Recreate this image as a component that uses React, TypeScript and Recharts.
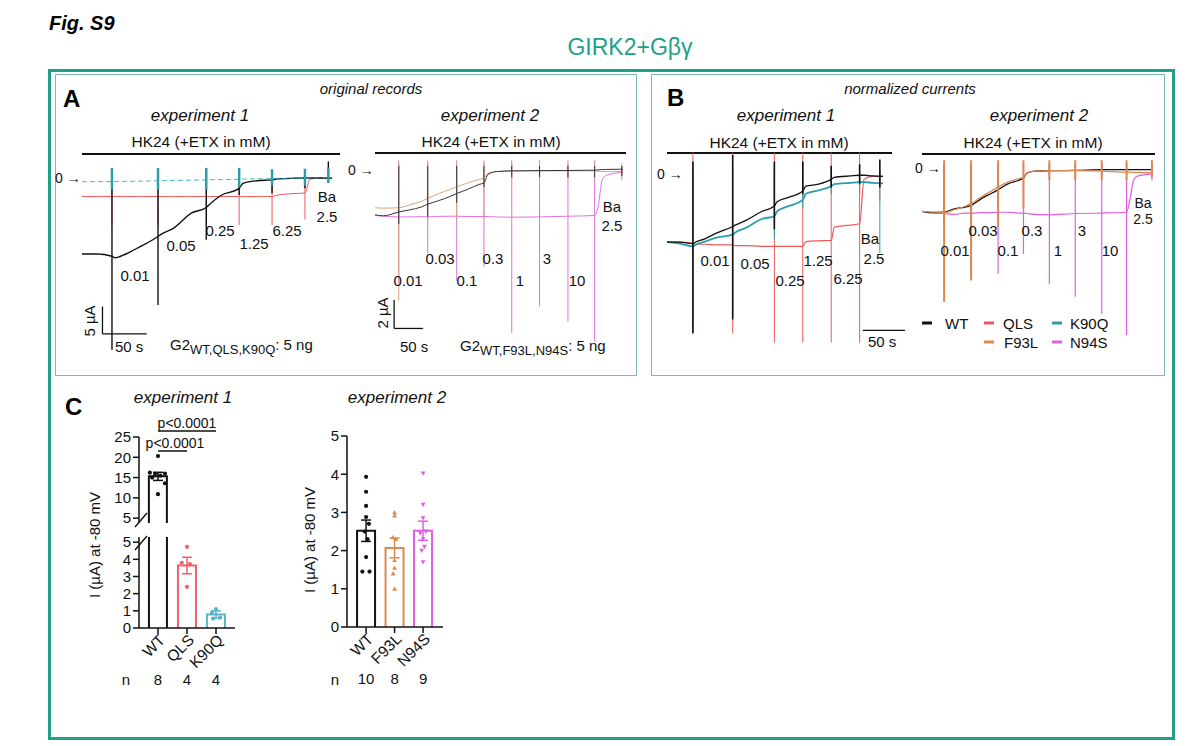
import React from "react";
import {
  LineChart,
  Line,
  XAxis,
  YAxis,
  ReferenceLine,
  ComposedChart,
  Bar,
  Scatter,
  ErrorBar,
} from "recharts";

const FONT = '"Liberation Sans", Arial, Helvetica, sans-serif';
const TEAL = "#21a088";
const BOX = "#7ab8bd";

const C_WT = "#111111";
const C_QLS = "#f0575c";
const C_K90Q = "#2a9eac";
const C_F93L = "#dc8a50";
const C_N94S = "#e25ee4";

// ---- experiment 1 (WT, QLS, K90Q) ----
// solution switches (s) and knot times for the holding current
const sw1 = [41, 104, 170, 215, 260, 305, 337];
const kn1 = [0, 20, 41, 45, 60, 80, 104, 108, 125, 150, 170, 174, 190, 215, 220, 240, 260, 265, 290, 305, 312, 325, 342];

// original records, µA
const a1WT = [-14.0, -14.0, -14.4, -14.7, -14.0, -12.6, -10.8, -10.4, -9.3, -6.5, -5.5, -5.0, -3.3, -2.0, -1.1, -0.6, -0.45, -0.3, -0.15, -0.1, -0.1, -0.1, -0.15];
const a1QLS = [-3.5, -3.5, -3.5, -3.5, -3.5, -3.5, -3.5, -3.5, -3.5, -3.5, -3.5, -3.5, -3.5, -3.5, -3.5, -3.5, -3.5, -3.3, -2.95, -2.85, -0.3, -0.12, -0.1];
const a1K90Q = [-0.8, -0.78, -0.75, -0.74, -0.72, -0.68, -0.62, -0.6, -0.55, -0.5, -0.45, -0.42, -0.4, -0.35, -0.3, -0.27, -0.22, -0.2, -0.17, -0.15, -0.12, -0.1, -0.1];
const a1WTLo = [-31.5, -23.3, -11.4, -3.2, -2.9, -2.0, -0.8];
const a1WTHi = [0.8, 0.8, 0.5, 1.4, 1.1, 1.4, 2.9];
const a1QLSLo = [-8.7, -8.7, -8.7, -8.7, -8.7, -7.7, -0.5];
const a1QLSHi = [0.5, 0.5, 0.5, 0.5, 0.5, 0.5, 0.3];
const a1K90QLo = [-2.2, -2.2, -2.2, -1.8, -1.5, -1.5, -1.0];
const a1K90QHi = [1.7, 1.7, 1.7, 1.7, 1.5, 1.6, 1.8];

// normalized currents
const b1WT = [-1.0, -1.0, -1.02, -1.0, -0.95, -0.86, -0.77, -0.75, -0.68, -0.55, -0.47, -0.41, -0.35, -0.25, -0.18, -0.15, -0.08, -0.05, -0.03, -0.02, -0.02, -0.03, -0.035];
const b1QLS = [-1.0, -1.0, -1.02, -1.03, -1.03, -1.04, -1.04, -1.05, -1.05, -1.06, -1.06, -1.06, -1.06, -1.06, -0.99, -0.98, -0.975, -0.78, -0.75, -0.73, -0.08, -0.035, -0.035];
const b1K90Q = [-1.0, -1.02, -1.06, -1.04, -0.99, -0.93, -0.89, -0.86, -0.79, -0.66, -0.62, -0.55, -0.48, -0.38, -0.29, -0.24, -0.18, -0.15, -0.13, -0.12, -0.12, -0.13, -0.14];
const b1WTLo = [-2.33, -2.13, -0.81, -0.3, -0.2, -0.15, -0.2];
const b1WTHi = [0.18, 0.28, 0.18, 0.18, 0.12, 0.14, 0.21];
const b1QLSLo = [-2.35, -2.33, -2.47, -2.47, -2.47, -2.47, -0.4];
const b1QLSHi = [0.31, 0.31, 0.31, 0.31, 0.31, 0.31, 0.05];
const b1K90QLo = [-2.23, -2.13, -0.95, -0.5, -0.3, -0.3, -1.16];
const b1K90QHi = [0.1, 0.1, 0.1, 0.05, 0.05, 0.05, 0.05];

// ---- experiment 2 (WT, F93L, N94S) ----
const sw2 = [41, 91, 141, 188, 236, 284, 333, 379, 426];
const kn2 = [0, 15, 41, 60, 80, 91, 110, 130, 141, 160, 180, 188, 195, 210, 236, 284, 333, 379, 385, 392, 400, 428];

const a2WT = [-3.15, -3.22, -2.95, -2.8, -2.6, -2.4, -2.15, -1.85, -1.65, -1.35, -1.0, -0.9, -0.3, -0.1, -0.05, -0.03, -0.02, 0.0, 0.02, 0.04, 0.05, 0.07];
const a2F93L = [-2.66, -2.68, -2.65, -2.45, -2.2, -2.0, -1.65, -1.35, -1.18, -0.9, -0.65, -0.55, -0.22, -0.1, -0.06, -0.05, -0.05, -0.05, -0.07, -0.1, -0.1, -0.1];
const a2N94S = [-3.2, -3.25, -3.3, -3.3, -3.28, -3.3, -3.26, -3.25, -3.25, -3.27, -3.27, -3.27, -3.28, -3.3, -3.32, -3.3, -3.25, -3.2, -2.6, -0.7, -0.35, -0.15];
const a2WTLo = [-3.8, -3.3, -2.3, -1.2, -0.5, -0.5, -0.5, -0.5, -0.4];
const a2WTHi = [0.3, 0.3, 0.3, 0.3, 0.3, 0.3, 0.3, 0.3, 0.3];
const a2F93LLo = [-9.2, -3.6, -3.5, -3.4, -0.6, -0.6, -0.6, -0.6, -0.5];
const a2F93LHi = [0.5, 0.5, 0.5, 0.5, 0.5, 0.5, 0.5, 0.5, 0.5];
const a2N94SLo = [-8.0, -5.9, -7.8, -6.8, -11.5, -9.6, -10.7, -12.1, -0.7];
const a2N94SHi = [0.7, 0.7, 0.7, 0.7, 0.7, 0.7, 0.7, 0.7, 0.3];

const b2WT = [-1.0, -1.03, -1.02, -0.94, -0.9, -0.86, -0.7, -0.57, -0.49, -0.35, -0.27, -0.22, -0.1, -0.055, -0.047, -0.04, -0.023, -0.02, -0.02, -0.02, -0.02, -0.023];
const b2F93L = [-1.0, -1.01, -1.03, -0.96, -0.88, -0.82, -0.66, -0.51, -0.43, -0.31, -0.23, -0.2, -0.1, -0.055, -0.047, -0.047, -0.055, -0.08, -0.08, -0.09, -0.09, -0.1];
const b2N94S = [-1.0, -1.03, -1.05, -1.07, -1.04, -1.04, -1.03, -1.03, -1.02, -1.02, -1.04, -1.04, -1.05, -1.07, -1.08, -1.05, -1.04, -1.02, -0.74, -0.27, -0.17, -0.12];
const b2WTLo = [-1.3, -1.15, -0.9, -0.5, -0.15, -0.15, -0.15, -0.15, -0.12];
const b2WTHi = [0.1, 0.1, 0.1, 0.1, 0.1, 0.1, 0.1, 0.1, 0.1];
const b2F93LLo = [-3.12, -2.62, -1.37, -0.94, -0.27, -0.27, -0.27, -0.27, -0.2];
const b2F93LHi = [0.2, 0.2, 0.2, 0.2, 0.2, 0.2, 0.2, 0.2, 0.2];
const b2N94SLo = [-2.9, -2.5, -2.46, -2.0, -2.7, -3.0, -3.4, -3.9, -0.27];
const b2N94SHi = [0.12, 0.12, 0.12, 0.12, 0.12, 0.12, 0.12, 0.12, 0.12];

// ETX concentrations (mM)
const conc1 = ["0.01", "0.05", "0.25", "1.25", "6.25"];
const conc2 = ["0.01", "0.03", "0.1", "0.3", "1", "3", "10"];

// ---- panel C: I at -80 mV (µA) ----
const groups1 = ["WT", "QLS", "K90Q"];
const mean1 = [15.3, 3.64, 0.79];
const sem1 = [1.0, 0.48, 0.21];
const n1 = [8, 4, 4];
const wt1Dots = [20.3, 16.2, 15.9, 16.0, 15.5, 15.0, 13.6, 10.9];
const wt1Jit = [0, -0.28, -0.1, 0.24, 0.08, -0.2, 0.24, 0];
const qlsDots = [4.73, 3.8, 3.72, 2.4];
const qlsJit = [0, -0.18, 0.1, 0];
const k90qDots = [1.1, 0.88, 0.6, 0.55];
const k90qJit = [0, -0.14, 0.14, -0.1];

const groups2 = ["WT", "F93L", "N94S"];
const mean2 = [2.52, 2.07, 2.52];
const sem2 = [0.28, 0.26, 0.25];
const n2 = [10, 8, 9];
const wt2Dots = [3.93, 3.54, 3.17, 2.88, 2.7, 2.5, 2.3, 1.83, 1.45, 1.45];
const wt2Jit = [0, 0, 0, 0, 0.1, -0.05, 0.05, 0, -0.13, 0.12];
const f93lDots = [3.0, 2.92, 2.35, 2.3, 1.75, 1.55, 1.4, 1.0];
const f93lJit = [0, 0, -0.05, 0.05, 0, 0, -0.05, 0];
const n94sDots = [4.02, 3.2, 2.85, 2.45, 2.5, 2.3, 2.1, 2.0, 1.7];
const n94sJit = [0, 0, 0, -0.1, 0.1, 0, 0.05, -0.05, 0];

type Pt = { t: number; v: number | null };
const curve = (ts: number[], vs: number[]): Pt[] => ts.map((t, i) => ({ t, v: vs[i] }));
const jumps = (ts: number[], lo: number[], hi: number[]): Pt[] =>
  ts.flatMap((t, i) => [
    { t, v: hi[i] },
    { t, v: lo[i] },
    { t, v: null },
  ]);

type Trace = { id: string; color: string; base: Pt[]; spikes: Pt[]; w?: number; jw?: number; dash?: string };

function Txt({ x, y, children, size = 15, italic = false, bold = false, align = "center", color = "#111", rotate = 0 }: any) {
  const tx = align === "center" ? "-50%" : align === "right" ? "-100%" : "0";
  return (
    <div
      style={{
        position: "absolute",
        left: x,
        top: y,
        transform: `translate(${tx}, -50%)${rotate ? ` rotate(${rotate}deg)` : ""}`,
        fontSize: size,
        fontStyle: italic ? "italic" : "normal",
        fontWeight: bold ? 700 : 400,
        color,
        whiteSpace: "nowrap",
        lineHeight: 1,
        fontFamily: FONT,
      }}
    >
      {children}
    </div>
  );
}

function TraceChart({ x, y, w, h, xDomain, yDomain, traces, bars = [] }: any) {
  return (
    <div style={{ position: "absolute", left: x, top: y }}>
      <LineChart width={w} height={h} margin={{ top: 0, right: 0, bottom: 0, left: 0 }}>
        <XAxis type="number" dataKey="t" domain={xDomain} hide allowDataOverflow />
        <YAxis type="number" domain={yDomain} hide allowDataOverflow />
        {traces.flatMap((tr: Trace) => [
          <Line
            key={tr.id + "-s"}
            data={tr.spikes}
            dataKey="v"
            type="linear"
            stroke={tr.color}
            strokeWidth={tr.jw ?? 1}
            dot={false}
            activeDot={false}
            connectNulls={false}
            isAnimationActive={false}
          />,
          <Line
            key={tr.id + "-b"}
            data={tr.base}
            dataKey="v"
            type="monotone"
            stroke={tr.color}
            strokeWidth={tr.w ?? 1.2}
            strokeDasharray={tr.dash}
            dot={false}
            activeDot={false}
            isAnimationActive={false}
          />,
        ])}
        {bars.map((s: any, i: number) => (
          <ReferenceLine key={i} segment={s} stroke="#111" strokeWidth={1.3} ifOverflow="visible" />
        ))}
      </LineChart>
    </div>
  );
}

function dotShape(color: string, kind: string) {
  return (p: any) => {
    const { cx, cy } = p;
    if (kind === "circle") return <circle cx={cx} cy={cy} r={2.1} fill={color} />;
    const s = 2.4;
    const d =
      kind === "up"
        ? `M${cx},${cy - s}L${cx + s},${cy + s * 0.8}L${cx - s},${cy + s * 0.8}Z`
        : `M${cx},${cy + s}L${cx + s},${cy - s * 0.8}L${cx - s},${cy - s * 0.8}Z`;
    return <path d={d} fill={color} />;
  };
}

// open-bottomed bar, 18 px wide, centred on its category
const barShape = (p: any) => {
  const cx = p.x + p.width / 2;
  const top = Math.min(p.y, p.y + p.height);
  const bottom = top + Math.abs(p.height);
  return (
    <path
      d={`M${cx - 9},${bottom}L${cx - 9},${top}L${cx + 9},${top}L${cx + 9},${bottom}`}
      fill="none"
      stroke={p.payload?.color ?? "#111"}
      strokeWidth={2}
    />
  );
};

function GroupTick({ x, y, payload, labels, ns }: any) {
  const i = Math.round(payload.value) - 1;
  if (i < 0 || i >= labels.length) return <g />;
  return (
    <g>
      <text
        x={x + 8}
        y={y + 5}
        transform={`rotate(-45 ${x + 8} ${y + 5})`}
        textAnchor="end"
        fontSize={15.5}
        fill="#111"
        fontFamily={FONT}
      >
        {labels[i]}
      </text>
      <text x={x} y={y + 49} textAnchor="middle" fontSize={15} fill="#111" fontFamily={FONT}>
        {ns[i]}
      </text>
    </g>
  );
}

const toPts = (gx: number, vals: number[], jit: number[]) => vals.map((v, i) => ({ x: gx + jit[i], y: v }));

function BarPanel({ x, y, h, top, bottom = 0, yDomain, yTicks, xDomain, showX, rows, errs, dots, labels, ns, refs = [] }: any) {
  return (
    <div style={{ position: "absolute", left: x, top: y }}>
      <ComposedChart width={146} height={h} data={rows} margin={{ top, right: 10, bottom, left: 0 }}>
        <XAxis
          type="number"
          dataKey="x"
          domain={xDomain}
          ticks={[1, 2, 3]}
          interval={0}
          allowDataOverflow
          hide={!showX}
          height={60}
          axisLine={{ stroke: "#111", strokeWidth: 1.5 }}
          tickLine={{ stroke: "#111", strokeWidth: 1.5 }}
          tickSize={6}
          tick={(p: any) => <GroupTick {...p} labels={labels} ns={ns} />}
        />
        <YAxis
          type="number"
          domain={yDomain}
          ticks={yTicks}
          interval={0}
          allowDataOverflow
          width={40}
          axisLine={{ stroke: "#111", strokeWidth: 1.5 }}
          tickLine={{ stroke: "#111", strokeWidth: 1.5 }}
          tickSize={6}
          tick={{ fontSize: 15, fill: "#111", fontFamily: FONT }}
        />
        <Bar dataKey="mean" barSize={18} shape={barShape} isAnimationActive={false} />
        {dots.map((d: any, i: number) => (
          <Scatter key={"d" + i} data={d.pts} dataKey="y" shape={dotShape(d.color, d.kind)} isAnimationActive={false} />
        ))}
        {errs.map((e: any, i: number) => (
          <Scatter key={"e" + i} data={[e]} dataKey="y" shape={() => <g />} isAnimationActive={false}>
            <ErrorBar dataKey="sem" direction="y" width={5} stroke={e.color} strokeWidth={1.5} />
          </Scatter>
        ))}
        {refs.map((s: any, i: number) => (
          <ReferenceLine key={"r" + i} segment={s} stroke="#111" strokeWidth={1.5} ifOverflow="visible" />
        ))}
      </ComposedChart>
    </div>
  );
}

const a1Traces: Trace[] = [
  { id: "qls", color: C_QLS, base: curve(kn1, a1QLS), spikes: jumps(sw1, a1QLSLo, a1QLSHi), w: 1 },
  { id: "wt", color: C_WT, base: curve(kn1, a1WT), spikes: jumps(sw1, a1WTLo, a1WTHi), w: 1.4, jw: 1.4 },
  { id: "k90q", color: C_K90Q, base: curve(kn1, a1K90Q), spikes: jumps(sw1, a1K90QLo, a1K90QHi), w: 0.8, jw: 2.5, dash: "5 3" },
];
const b1Traces: Trace[] = [
  { id: "qls", color: C_QLS, base: curve(kn1, b1QLS), spikes: jumps(sw1, b1QLSLo, b1QLSHi), w: 1.2 },
  { id: "k90q", color: C_K90Q, base: curve(kn1, b1K90Q), spikes: jumps(sw1, b1K90QLo, b1K90QHi), w: 1.8 },
  { id: "wt", color: C_WT, base: curve(kn1, b1WT), spikes: jumps(sw1, b1WTLo, b1WTHi), w: 1.3, jw: 1.6 },
];
const a2Traces: Trace[] = [
  { id: "n94s", color: "#e070e0", base: curve(kn2, a2N94S), spikes: jumps(sw2, a2N94SLo, a2N94SHi), w: 1 },
  { id: "f93l", color: "#dfa27a", base: curve(kn2, a2F93L), spikes: jumps(sw2, a2F93LLo, a2F93LHi), w: 1 },
  { id: "wt", color: "#333", base: curve(kn2, a2WT), spikes: jumps(sw2, a2WTLo, a2WTHi), w: 1 },
];
const b2Traces: Trace[] = [
  { id: "n94s", color: C_N94S, base: curve(kn2, b2N94S), spikes: jumps(sw2, b2N94SLo, b2N94SHi), w: 1.2, jw: 1.2 },
  { id: "wt", color: C_WT, base: curve(kn2, b2WT), spikes: jumps(sw2, b2WTLo, b2WTHi), w: 1.3 },
  { id: "f93l", color: C_F93L, base: curve(kn2, b2F93L), spikes: jumps(sw2, b2F93LLo, b2F93LHi), w: 1.3, jw: 2 },
];

const colors1 = [C_WT, "#f0606a", "#5cb4cc"];
const colors2 = [C_WT, C_F93L, C_N94S];

// label layout (page px)
const a1Lab = [[135, 275], [181, 245], [220, 230], [254, 243], [287, 230]];
const a2Lab = [[408, 280], [440, 258], [467, 280], [493, 258], [520, 280], [547, 258], [577, 280]];
const b1Lab = [[715, 260], [755, 263], [790, 280], [818, 260], [848, 278]];
const b2Lab = [[955, 250], [983, 230], [1008, 250], [1032, 230], [1058, 250], [1082, 230], [1110, 250]];

export default function App() {
  const up1Rows = [{ x: 1, mean: mean1[0], color: colors1[0] }];
  const low1Rows = groups1.map((_, i) => ({ x: i + 1, mean: mean1[i], color: colors1[i] }));
  const rows2 = groups2.map((_, i) => ({ x: i + 1, mean: mean2[i], color: colors2[i] }));
  const sub = { fontSize: 13, verticalAlign: "-4px" } as React.CSSProperties;

  return (
    <div style={{ position: "absolute", left: 0, top: 0, width: 1195, height: 746, background: "#fff", overflow: "hidden", fontFamily: FONT }}>
      <Txt x={49} y={23} size={20} bold italic align="left" color="#000">Fig. S9</Txt>
      <Txt x={630} y={47} size={23} color={TEAL}>GIRK2+Gβγ</Txt>

      <div style={{ position: "absolute", left: 48, top: 69, width: 1127, height: 671, border: `3px solid ${TEAL}`, boxSizing: "border-box" }} />
      <div style={{ position: "absolute", left: 55, top: 74, width: 582, height: 302, border: `1.5px solid ${BOX}`, boxSizing: "border-box" }} />
      <div style={{ position: "absolute", left: 651, top: 74, width: 514, height: 302, border: `1.5px solid ${BOX}`, boxSizing: "border-box" }} />

      <svg width={1195} height={746} style={{ position: "absolute", left: 0, top: 0, pointerEvents: "none" }}>
        <g stroke="#111" strokeWidth={1.8}>
          <line x1={82} y1={154} x2={340} y2={154} />
          <line x1={375} y1={153} x2={626} y2={153} />
          <line x1={667} y1={153} x2={892} y2={153} />
          <line x1={922} y1={154} x2={1155} y2={154} />
        </g>
        <g stroke="#111" strokeWidth={1.4}>
          <line x1={135} y1={527} x2={147} y2={513} />
          <line x1={135} y1={550} x2={147} y2={536} />
        </g>
        <g strokeWidth={3}>
          <line x1={922} y1={323} x2={932} y2={323} stroke={C_WT} />
          <line x1={984} y1={323} x2={994} y2={323} stroke={C_QLS} />
          <line x1={1052} y1={323} x2={1062} y2={323} stroke={C_K90Q} />
          <line x1={984} y1={342} x2={994} y2={342} stroke={C_F93L} />
          <line x1={1052} y1={342} x2={1062} y2={342} stroke={C_N94S} />
        </g>
      </svg>

      {/* Panel A */}
      <Txt x={63} y={99} size={24} bold align="left" color="#000">A</Txt>
      <Txt x={371} y={88} size={15} italic>original records</Txt>
      <Txt x={200} y={115} size={17} italic>experiment 1</Txt>
      <Txt x={201} y={142} size={15.5}>HK24 (+ETX in mM)</Txt>
      <Txt x={490} y={115} size={17} italic>experiment 2</Txt>
      <Txt x={491} y={142} size={15.5}>HK24 (+ETX in mM)</Txt>
      <Txt x={55} y={178} size={14} align="left">0 →</Txt>
      <Txt x={348} y={170} size={14} align="left">0 →</Txt>

      <TraceChart
        x={82}
        y={161.3}
        w={250}
        h={191.5}
        xDomain={[0, 342]}
        yDomain={[-32, 3]}
        traces={a1Traces}
        bars={[
          [{ x: 28, y: -28.6 }, { x: 88.5, y: -28.6 }],
          [{ x: 28, y: -28.6 }, { x: 28, y: -23.6 }],
        ]}
      />
      <TraceChart
        x={375}
        y={155.8}
        w={248}
        h={191.3}
        xDomain={[0, 428]}
        yDomain={[-12.5, 1]}
        traces={a2Traces}
        bars={[
          [{ x: 33, y: -11.17 }, { x: 83, y: -11.17 }],
          [{ x: 33, y: -11.17 }, { x: 33, y: -9.17 }],
        ]}
      />
      {conc1.map((c, i) => (
        <Txt key={"a1" + c} x={a1Lab[i][0]} y={a1Lab[i][1]}>{c}</Txt>
      ))}
      <Txt x={327} y={196}>Ba</Txt>
      <Txt x={327} y={216}>2.5</Txt>
      {conc2.map((c, i) => (
        <Txt key={"a2" + c} x={a2Lab[i][0]} y={a2Lab[i][1]}>{c}</Txt>
      ))}
      <Txt x={612} y={206}>Ba</Txt>
      <Txt x={612} y={225}>2.5</Txt>
      <Txt x={89} y={321} rotate={-90}>5 µA</Txt>
      <Txt x={115} y={346} align="left">50 s</Txt>
      <Txt x={170} y={346} align="left">G2<span style={sub}>WT,QLS,K90Q</span>: 5 ng</Txt>
      <Txt x={382} y={313} rotate={-90}>2 µA</Txt>
      <Txt x={400} y={346} align="left">50 s</Txt>
      <Txt x={460} y={347} align="left">G2<span style={sub}>WT,F93L,N94S</span>: 5 ng</Txt>

      {/* Panel B */}
      <Txt x={667} y={98} size={24} bold align="left" color="#000">B</Txt>
      <Txt x={910} y={88} size={15} italic>normalized currents</Txt>
      <Txt x={786} y={115} size={17} italic>experiment 1</Txt>
      <Txt x={779} y={143} size={15.5}>HK24 (+ETX in mM)</Txt>
      <Txt x={1039} y={115} size={17} italic>experiment 2</Txt>
      <Txt x={1033} y={143} size={15.5}>HK24 (+ETX in mM)</Txt>
      <Txt x={657} y={174} size={14} align="left">0 →</Txt>
      <Txt x={915} y={168} size={14} align="left">0 →</Txt>

      <TraceChart
        x={667}
        y={150.4}
        w={240}
        h={201.5}
        xDomain={[0, 380]}
        yDomain={[-2.6, 0.35]}
        traces={b1Traces}
        bars={[[{ x: 310, y: -2.29 }, { x: 377, y: -2.29 }]]}
      />
      <TraceChart x={922} y={157.6} w={231} h={181.5} xDomain={[0, 428]} yDomain={[-4.0, 0.25]} traces={b2Traces} />
      {conc1.map((c, i) => (
        <Txt key={"b1" + c} x={b1Lab[i][0]} y={b1Lab[i][1]}>{c}</Txt>
      ))}
      <Txt x={870} y={238}>Ba</Txt>
      <Txt x={874} y={258}>2.5</Txt>
      {conc2.map((c, i) => (
        <Txt key={"b2" + c} x={b2Lab[i][0]} y={b2Lab[i][1]}>{c}</Txt>
      ))}
      <Txt x={1143} y={203} size={14}>Ba</Txt>
      <Txt x={1143} y={219} size={14}>2.5</Txt>
      <Txt x={868} y={341} align="left">50 s</Txt>
      <Txt x={945} y={323} align="left">WT</Txt>
      <Txt x={1003} y={323} align="left">QLS</Txt>
      <Txt x={1070} y={323} align="left">K90Q</Txt>
      <Txt x={1004} y={342} align="left">F93L</Txt>
      <Txt x={1070} y={342} align="left">N94S</Txt>

      {/* Panel C */}
      <Txt x={65} y={407} size={24} bold align="left" color="#000">C</Txt>
      <Txt x={183} y={397} size={17} italic>experiment 1</Txt>
      <Txt x={397} y={397} size={17} italic>experiment 2</Txt>
      <Txt x={175} y={443} size={14}>p&lt;0.0001</Txt>
      <Txt x={187} y={423} size={14}>p&lt;0.0001</Txt>
      <Txt x={94} y={545} rotate={-90}>I (µA) at -80 mV</Txt>
      <Txt x={309} y={540} rotate={-90}>I (µA) at -80 mV</Txt>

      <BarPanel
        x={99}
        y={427}
        h={106}
        top={10}
        bottom={10}
        yDomain={[3.8, 25]}
        yTicks={[5, 10, 15, 20, 25]}
        xDomain={[0.345, 3.655]}
        showX={false}
        rows={up1Rows}
        errs={[{ x: 1, y: mean1[0], sem: sem1[0], color: colors1[0] }]}
        dots={[{ color: colors1[0], kind: "circle", pts: toPts(1, wt1Dots, wt1Jit) }]}
        labels={groups1}
        ns={n1}
        refs={[
          [{ x: 1, y: 21.55 }, { x: 2, y: 21.55 }],
          [{ x: 1, y: 26.5 }, { x: 3, y: 26.5 }],
        ]}
      />
      <BarPanel
        x={99}
        y={532}
        h={156}
        top={5}
        yDomain={[0, 5.3]}
        yTicks={[0, 1, 2, 3, 4, 5]}
        xDomain={[0.345, 3.655]}
        showX
        rows={low1Rows}
        errs={[
          { x: 2, y: mean1[1], sem: sem1[1], color: colors1[1] },
          { x: 3, y: mean1[2], sem: sem1[2], color: colors1[2] },
        ]}
        dots={[
          { color: colors1[1], kind: "circle", pts: toPts(2, qlsDots, qlsJit) },
          { color: colors1[2], kind: "circle", pts: toPts(3, k90qDots, k90qJit) },
        ]}
        labels={groups1}
        ns={n1}
      />
      <BarPanel
        x={307}
        y={426}
        h={261}
        top={10}
        yDomain={[0, 5]}
        yTicks={[0, 1, 2, 3, 4, 5]}
        xDomain={[0.33, 3.7]}
        showX
        rows={rows2}
        errs={rows2.map((r, i) => ({ x: r.x, y: r.mean, sem: sem2[i], color: colors2[i] }))}
        dots={[
          { color: colors2[0], kind: "circle", pts: toPts(1, wt2Dots, wt2Jit) },
          { color: colors2[1], kind: "up", pts: toPts(2, f93lDots, f93lJit) },
          { color: colors2[2], kind: "down", pts: toPts(3, n94sDots, n94sJit) },
        ]}
        labels={groups2}
        ns={n2}
      />
      <Txt x={126} y={679}>n</Txt>
      <Txt x={335} y={679}>n</Txt>
    </div>
  );
}
